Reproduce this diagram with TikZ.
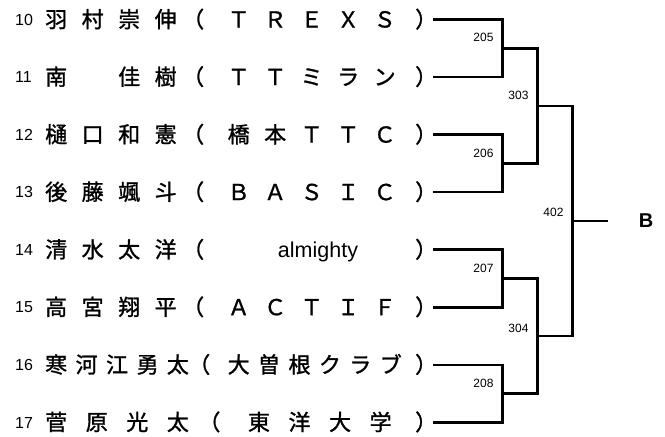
\documentclass[tikz,border=0pt]{standalone}
\usepackage{fontspec}
\setmainfont{Liberation Sans}
\newfontfamily\jp[FakeBold=1.2]{Noto Sans CJK JP}
\newcommand\op{\makebox[22pt][l]{\kern-9pt （}}
\newcommand\cp{\makebox[22pt][l]{\kern5pt ）}}
\tikzset{
  cj/.style={font=\jp\fontsize{22}{22}\selectfont, inner sep=0pt, anchor=base west},
  latin/.style={font=\fontsize{21.5}{21.5}\selectfont, inner sep=0pt, anchor=base},
  num/.style={font=\fontsize{16}{16}\selectfont, inner sep=0pt, anchor=base west},
  lbl/.style={font=\fontsize{12}{12}\selectfont, inner sep=0pt},
  br/.style={line width=2.6pt, line join=miter},
}
\newcommand\distrow[4]{%
  \foreach \ch [count=\k from 0] in {#4}{%
    \pgfmathsetmacro\xx{45+\k*(432-45-22)/(#3-1)}%
    \node[cj] (#1c\k) at (\xx,#2+8) {\ch};}}
\begin{document}
\begin{tikzpicture}[x=1pt,y=-1pt]
\useasboundingbox[fill=white] (0,0) rectangle (665,437);
% player numbers
\node[num] (n10) at (15,19.5+5.7) {10};
\node[num] (n11) at (15,77.0+5.7) {11};
\node[num] (n12) at (15,134.6+5.7) {12};
\node[num] (n13) at (15,192.1+5.7) {13};
\node[num] (n14) at (15,249.7+5.7) {14};
\node[num] (n15) at (15,307.2+5.7) {15};
\node[num] (n16) at (15,364.8+5.7) {16};
\node[num] (n17) at (15,422.3+5.7) {17};
% player names and teams
\distrow{r10}{19.5}{11}{羽,村,崇,伸,\op,Ｔ,Ｒ,Ｅ,Ｘ,Ｓ,\cp}
\distrow{r11}{77.0}{11}{南,　,佳,樹,\op,Ｔ,Ｔ,ミ,ラ,ン,\cp}
\distrow{r12}{134.6}{11}{樋,口,和,憲,\op,橋,本,Ｔ,Ｔ,Ｃ,\cp}
\distrow{r13}{192.1}{11}{後,藤,颯,斗,\op,Ｂ,Ａ,Ｓ,Ｉ,Ｃ,\cp}
\distrow{r14}{249.7}{11}{清,水,太,洋,\op,　,　,　,　,　,\cp}
\node[latin] (r14a) at (318,249.7+7.5) {almighty};
\distrow{r15}{307.2}{11}{高,宮,翔,平,\op,Ａ,Ｃ,Ｔ,Ｉ,Ｆ,\cp}
\distrow{r16}{364.8}{13}{寒,河,江,勇,太,\op,大,曽,根,ク,ラ,ブ,\cp}
\distrow{r17}{422.3}{10}{菅,原,光,太,\op,東,洋,大,学,\cp}
% line starts
\coordinate (s10) at (433,19.5);
\coordinate (s11) at (433,77.0);
\coordinate (s12) at (433,134.6);
\coordinate (s13) at (433,192.1);
\coordinate (s14) at (433,249.7);
\coordinate (s15) at (433,307.2);
\coordinate (s16) at (433,364.8);
\coordinate (s17) at (433,422.3);
% match points
\coordinate (m205) at (502.5,48.25);
\coordinate (m206) at (502.5,163.35);
\coordinate (m207) at (502.5,278.45);
\coordinate (m208) at (502.5,393.55);
\coordinate (m303) at (537.5,105.8);
\coordinate (m304) at (537.5,336.0);
\coordinate (m402) at (572.5,220.9);
\coordinate (w) at (608,220.9);
% bracket
\draw[br] (s10) -| (m205) |- (s11);
\draw[br] (s12) -| (m206) |- (s13);
\draw[br] (s14) -| (m207) |- (s15);
\draw[br] (s16) -| (m208) |- (s17);
\draw[br] (m205) -| (m303) |- (m206);
\draw[br] (m207) -| (m304) |- (m208);
\draw[br] (m303) -| (m402) |- (m304);
\draw[br] (m402) -- (w);
% match labels
\node[lbl] (l205) at (483.5,37.5) {205};
\node[lbl] (l206) at (483.5,153) {206};
\node[lbl] (l207) at (483.5,268) {207};
\node[lbl] (l208) at (483.5,383) {208};
\node[lbl] (l303) at (518.5,95) {303};
\node[lbl] (l304) at (518.5,328) {304};
\node[lbl] (l402) at (553.5,212.5) {402};
\node[font=\bfseries\fontsize{20}{20}\selectfont, inner sep=0pt] (B) at (646,220.5) {B};
\end{tikzpicture}
\end{document}
